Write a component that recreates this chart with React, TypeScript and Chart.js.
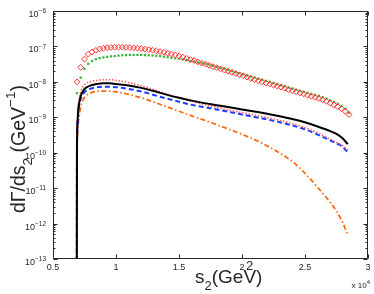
import { useEffect, useRef } from 'react';
import { Chart, registerables } from 'chart.js';

Chart.register(...registerables);

// s2 in units of 10^4 GeV^2 (marker series)
const markerS = [
  0.69, 0.72, 0.75, 0.78, 0.81, 0.84, 0.87, 0.90, 0.93, 0.96,
  0.99, 1.02, 1.05, 1.08, 1.11, 1.14, 1.17, 1.20, 1.23, 1.26,
  1.29, 1.32, 1.35, 1.38, 1.41, 1.44, 1.47, 1.50, 1.53, 1.56,
  1.59, 1.62, 1.65, 1.68, 1.71, 1.74, 1.77, 1.80, 1.83, 1.86,
  1.89, 1.92, 1.95, 1.98, 2.01, 2.04, 2.07, 2.10, 2.13, 2.16,
  2.19, 2.22, 2.25, 2.28, 2.31, 2.34, 2.37, 2.40, 2.43, 2.46,
  2.49, 2.52, 2.55, 2.58, 2.61, 2.64, 2.67, 2.70, 2.73, 2.76,
  2.79, 2.82, 2.85,
];

// red open diamonds
const diamondRate = [
  1.00e-8, 2.57e-8, 4.37e-8, 6.03e-8, 6.92e-8, 7.76e-8, 8.51e-8, 8.91e-8, 9.2e-8, 9.4e-8,
  9.5e-8, 9.5e-8, 9.5e-8, 9.4e-8, 9.3e-8, 9.1e-8, 8.9e-8, 8.7e-8, 8.4e-8, 8.1e-8,
  7.85e-8, 7.5e-8, 7.16e-8, 6.84e-8, 6.46e-8, 6.1e-8, 5.75e-8, 5.37e-8, 5.0e-8, 4.62e-8,
  4.27e-8, 3.98e-8, 3.67e-8, 3.39e-8, 3.16e-8, 2.92e-8, 2.69e-8, 2.51e-8, 2.32e-8, 2.16e-8,
  2.0e-8, 1.86e-8, 1.72e-8, 1.58e-8, 1.48e-8, 1.36e-8, 1.26e-8, 1.15e-8, 1.07e-8, 1.0e-8,
  9.3e-9, 8.7e-9, 8.1e-9, 7.6e-9, 7.1e-9, 6.6e-9, 6.0e-9, 5.6e-9, 5.25e-9, 4.9e-9,
  4.57e-9, 4.2e-9, 3.9e-9, 3.63e-9, 3.39e-9, 3.09e-9, 2.82e-9, 2.51e-9, 2.24e-9, 2.0e-9,
  1.74e-9, 1.48e-9, 1.2e-9,
];

// green dots
const dotRate = [
  4.79e-9, 1.32e-8, 2.34e-8, 3.24e-8, 3.89e-8, 4.37e-8, 4.68e-8, 4.9e-8, 5.07e-8, 5.25e-8,
  5.37e-8, 5.5e-8, 5.62e-8, 5.69e-8, 5.75e-8, 5.75e-8, 5.75e-8, 5.75e-8, 5.69e-8, 5.62e-8,
  5.56e-8, 5.43e-8, 5.31e-8, 5.13e-8, 4.95e-8, 4.79e-8, 4.62e-8, 4.47e-8, 4.27e-8, 4.07e-8,
  3.89e-8, 3.72e-8, 3.55e-8, 3.39e-8, 3.24e-8, 3.05e-8, 2.85e-8, 2.66e-8, 2.48e-8, 2.32e-8,
  2.16e-8, 2.02e-8, 1.88e-8, 1.76e-8, 1.62e-8, 1.51e-8, 1.41e-8, 1.32e-8, 1.23e-8, 1.15e-8,
  1.07e-8, 1.0e-8, 9.3e-9, 8.6e-9, 8.0e-9, 7.5e-9, 6.9e-9, 6.5e-9, 6.0e-9, 5.6e-9,
  5.25e-9, 4.9e-9, 4.57e-9, 4.3e-9, 4.07e-9, 3.72e-9, 3.39e-9, 3.02e-9, 2.69e-9, 2.4e-9,
  2.09e-9, 1.74e-9, 1.35e-9,
];

// s2 in units of 10^4 GeV^2 (line series)
const lineS = [
  0.688, 0.69, 0.695, 0.70, 0.71, 0.72, 0.74, 0.76, 0.80, 0.85, 0.90, 0.95,
  1.0, 1.1, 1.2, 1.3, 1.4, 1.5, 1.6, 1.7, 1.8, 1.9, 2.0, 2.1, 2.2, 2.3, 2.4,
  2.5, 2.6, 2.7, 2.75, 2.8, 2.84,
];

const solidRate = [
  1e-16, 1.0e-10, 7.94e-10, 1.58e-9, 2.82e-9, 3.98e-9, 5.62e-9, 6.76e-9, 7.94e-9, 8.71e-9, 9.12e-9, 9.12e-9,
  8.71e-9, 7.94e-9, 6.76e-9, 5.50e-9, 4.37e-9, 3.55e-9, 2.95e-9, 2.51e-9, 2.19e-9, 1.91e-9, 1.66e-9, 1.45e-9,
  1.26e-9, 1.07e-9, 8.91e-10, 7.24e-10, 5.50e-10, 4.07e-10, 3.39e-10, 2.51e-10, 1.74e-10,
];

const dottedRate = [
  1e-16, 1.26e-10, 1.0e-9, 2.0e-9, 3.80e-9, 5.25e-9, 7.59e-9, 8.91e-9, 1.02e-8, 1.10e-8, 1.15e-8, 1.15e-8,
  1.10e-8, 9.55e-9, 7.76e-9, 6.03e-9, 4.57e-9, 3.55e-9, 2.82e-9, 2.29e-9, 1.91e-9, 1.58e-9, 1.35e-9, 1.15e-9,
  9.77e-10, 8.13e-10, 6.61e-10, 5.13e-10, 3.63e-10, 2.40e-10, 1.95e-10, 1.55e-10, 1.20e-10,
];

const dashedRate = [
  1e-16, 7.94e-11, 6.31e-10, 1.26e-9, 2.40e-9, 3.31e-9, 4.57e-9, 5.50e-9, 6.46e-9, 7.08e-9, 7.24e-9, 7.24e-9,
  7.08e-9, 6.31e-9, 5.37e-9, 4.27e-9, 3.39e-9, 2.75e-9, 2.24e-9, 1.95e-9, 1.66e-9, 1.41e-9, 1.20e-9, 1.02e-9,
  8.71e-10, 7.24e-10, 5.89e-10, 4.57e-10, 3.24e-10, 2.24e-10, 1.82e-10, 1.45e-10, 1.0e-10,
];

const dashDotRate = [
  1e-16, 3.98e-11, 3.16e-10, 6.31e-10, 1.26e-9, 2.0e-9, 3.16e-9, 3.98e-9, 4.90e-9, 5.37e-9, 5.50e-9, 5.50e-9,
  5.25e-9, 4.47e-9, 3.55e-9, 2.69e-9, 2.0e-9, 1.48e-9, 1.10e-9, 8.32e-10, 6.17e-10, 4.57e-10, 3.31e-10, 2.34e-10,
  1.55e-10, 9.77e-11, 5.62e-11, 2.63e-11, 1.05e-11, 3.98e-12, 2.24e-12, 1.05e-12, 4.68e-13,
];

const xTickValues = [0.5, 1, 1.5, 2, 2.5, 3];
const xTickLabels = ['0.5', '1', '1.5', '2', '2.5', '3'];
const yTickExponents = [-13, -12, -11, -10, -9, -8, -7, -6];

const FONT = '"Liberation Sans", Arial, Helvetica, sans-serif';
const TEXT = '#262626';

type Seg = { t: string; size: number; dy?: number; dx?: number; adv?: boolean };

function drawSegs(ctx: CanvasRenderingContext2D, segs: Seg[], x: number, y: number) {
  let cx = x;
  for (const s of segs) {
    ctx.font = `${s.size}px ${FONT}`;
    const px = cx + (s.dx || 0);
    ctx.fillText(s.t, px, y + (s.dy || 0));
    const w = ctx.measureText(s.t).width;
    if (s.adv !== false) cx = px + w;
  }
  return cx - x;
}

function segsWidth(ctx: CanvasRenderingContext2D, segs: Seg[]) {
  let w = 0;
  for (const s of segs) {
    ctx.font = `${s.size}px ${FONT}`;
    if (s.adv !== false) w += ctx.measureText(s.t).width + (s.dx || 0);
  }
  return w;
}

const axesPlugin = {
  id: 'matlabAxes',
  afterDraw(chart: any) {
    const { ctx, chartArea: a, scales } = chart;
    const xs = scales.x;
    const ys = scales.y;
    ctx.save();
    ctx.strokeStyle = '#262626';
    ctx.lineWidth = 1;
    const L = a.left + 0.5;
    const R = a.right - 0.5;
    const T = a.top + 0.5;
    const B = a.bottom - 0.5;
    ctx.beginPath();
    ctx.rect(L, T, R - L, B - T);
    ctx.stroke();

    // y ticks (major + minor), both sides
    ctx.beginPath();
    for (const e of yTickExponents) {
      const y = Math.round(ys.getPixelForValue(Math.pow(10, e))) + 0.5;
      ctx.moveTo(L, y); ctx.lineTo(L + 4, y);
      ctx.moveTo(R, y); ctx.lineTo(R - 4, y);
      if (e < -6) {
        for (let m = 2; m <= 9; m++) {
          const ym = Math.round(ys.getPixelForValue(m * Math.pow(10, e))) + 0.5;
          ctx.moveTo(L, ym); ctx.lineTo(L + 2, ym);
          ctx.moveTo(R, ym); ctx.lineTo(R - 2, ym);
        }
      }
    }
    // x ticks top and bottom
    for (const v of xTickValues) {
      const x = Math.round(xs.getPixelForValue(v)) + 0.5;
      ctx.moveTo(x, B); ctx.lineTo(x, B - 4);
      ctx.moveTo(x, T); ctx.lineTo(x, T + 4);
    }
    ctx.stroke();

    ctx.fillStyle = TEXT;
    ctx.textBaseline = 'alphabetic';
    ctx.textAlign = 'left';

    // y tick labels 10^e
    for (const e of yTickExponents) {
      const y = ys.getPixelForValue(Math.pow(10, e));
      const segs: Seg[] = [
        { t: '10', size: 9 },
        { t: '\u2212' + String(-e), size: 6.5, dy: -3.8 },
      ];
      const w = segsWidth(ctx, segs);
      drawSegs(ctx, segs, 46 - w, y + 6);
    }

    // x tick labels
    ctx.font = `9px ${FONT}`;
    xTickValues.forEach((v, i) => {
      const x = xs.getPixelForValue(v);
      const w = ctx.measureText(xTickLabels[i]).width;
      ctx.fillText(xTickLabels[i], x - w / 2, a.bottom + 11);
    });

    // exponent multiplier
    const mult: Seg[] = [
      { t: 'x 10', size: 8 },
      { t: '4', size: 6, dy: -4 },
    ];
    const mw = segsWidth(ctx, mult);
    drawSegs(ctx, mult, 370 - mw, 288);

    // x title
    drawSegs(ctx, [
      { t: 's', size: 19 },
      { t: '2', size: 13, dy: 7 },
      { t: '(GeV', size: 19 },
      { t: '2', size: 13, dy: -13, dx: -10, adv: false },
      { t: ')', size: 19 },
    ], 195, 283);

    // y title (rotated)
    ctx.save();
    ctx.translate(25, 213);
    ctx.rotate(-Math.PI / 2);
    drawSegs(ctx, [
      { t: 'd\u0393/ds', size: 19.5 },
      { t: '2', size: 13.5, dy: 7 },
      { t: ' (GeV', size: 19.5 },
      { t: '\u22121', size: 13.5, dy: -10 },
      { t: ')', size: 19.5 },
    ], 0, 0);
    ctx.restore();

    ctx.restore();
  },
};

function pts(xsArr: number[], ysArr: number[]) {
  return ysArr.map((v, i) => ({ x: xsArr[i], y: v }));
}

export default function App() {
  const ref = useRef<HTMLCanvasElement | null>(null);

  useEffect(() => {
    if (!ref.current) return;
    const lineBase = {
      showLine: true,
      pointRadius: 0,
      fill: false,
      cubicInterpolationMode: 'monotone' as const,
    };
    const chart = new Chart(ref.current, {
      type: 'scatter',
      data: {
        datasets: [
          {
            ...lineBase,
            label: 'solid',
            data: pts(lineS, solidRate),
            borderColor: '#000000',
            borderWidth: 2,
          },
          {
            ...lineBase,
            label: 'dotted',
            data: pts(lineS, dottedRate),
            borderColor: '#ff4d4d',
            borderWidth: 1.5,
            borderDash: [1.4, 1.8],
          },
          {
            ...lineBase,
            label: 'dashed',
            data: pts(lineS, dashedRate),
            borderColor: '#1e3cff',
            borderWidth: 2,
            borderDash: [5, 3],
          },
          {
            ...lineBase,
            label: 'dashdot',
            data: pts(lineS, dashDotRate),
            borderColor: '#ff6a10',
            borderWidth: 1.8,
            borderDash: [5, 2.5, 1.5, 2.5],
          },
          {
            label: 'diamonds',
            data: pts(markerS, diamondRate),
            showLine: false,
            pointStyle: 'rectRot',
            pointRadius: 2.9,
            pointBorderWidth: 1,
            pointBorderColor: '#ff3030',
            pointBackgroundColor: 'rgba(0,0,0,0)',
          },
          {
            label: 'dots',
            data: pts(markerS, dotRate),
            showLine: false,
            pointStyle: 'rect',
            pointRadius: 1.6,
            pointBorderWidth: 0,
            pointBorderColor: '#3cb43c',
            pointBackgroundColor: '#3cb43c',
          },
        ],
      },
      options: {
        responsive: false,
        animation: false,
        devicePixelRatio: 1,
        layout: { padding: { left: 53, right: 6, top: 11, bottom: 35 } },
        plugins: { legend: { display: false }, tooltip: { enabled: false } },
        scales: {
          x: { type: 'linear', min: 0.5, max: 3, display: false },
          y: { type: 'logarithmic', min: 1e-13, max: 1e-6, display: false },
        },
      },
      plugins: [axesPlugin],
    });
    return () => chart.destroy();
  }, []);

  return (
    <div style={{ position: 'absolute', left: 0, top: 0, width: 374, height: 294, background: '#fff' }}>
      <canvas ref={ref} width={374} height={294} style={{ display: 'block' }} />
    </div>
  );
}
